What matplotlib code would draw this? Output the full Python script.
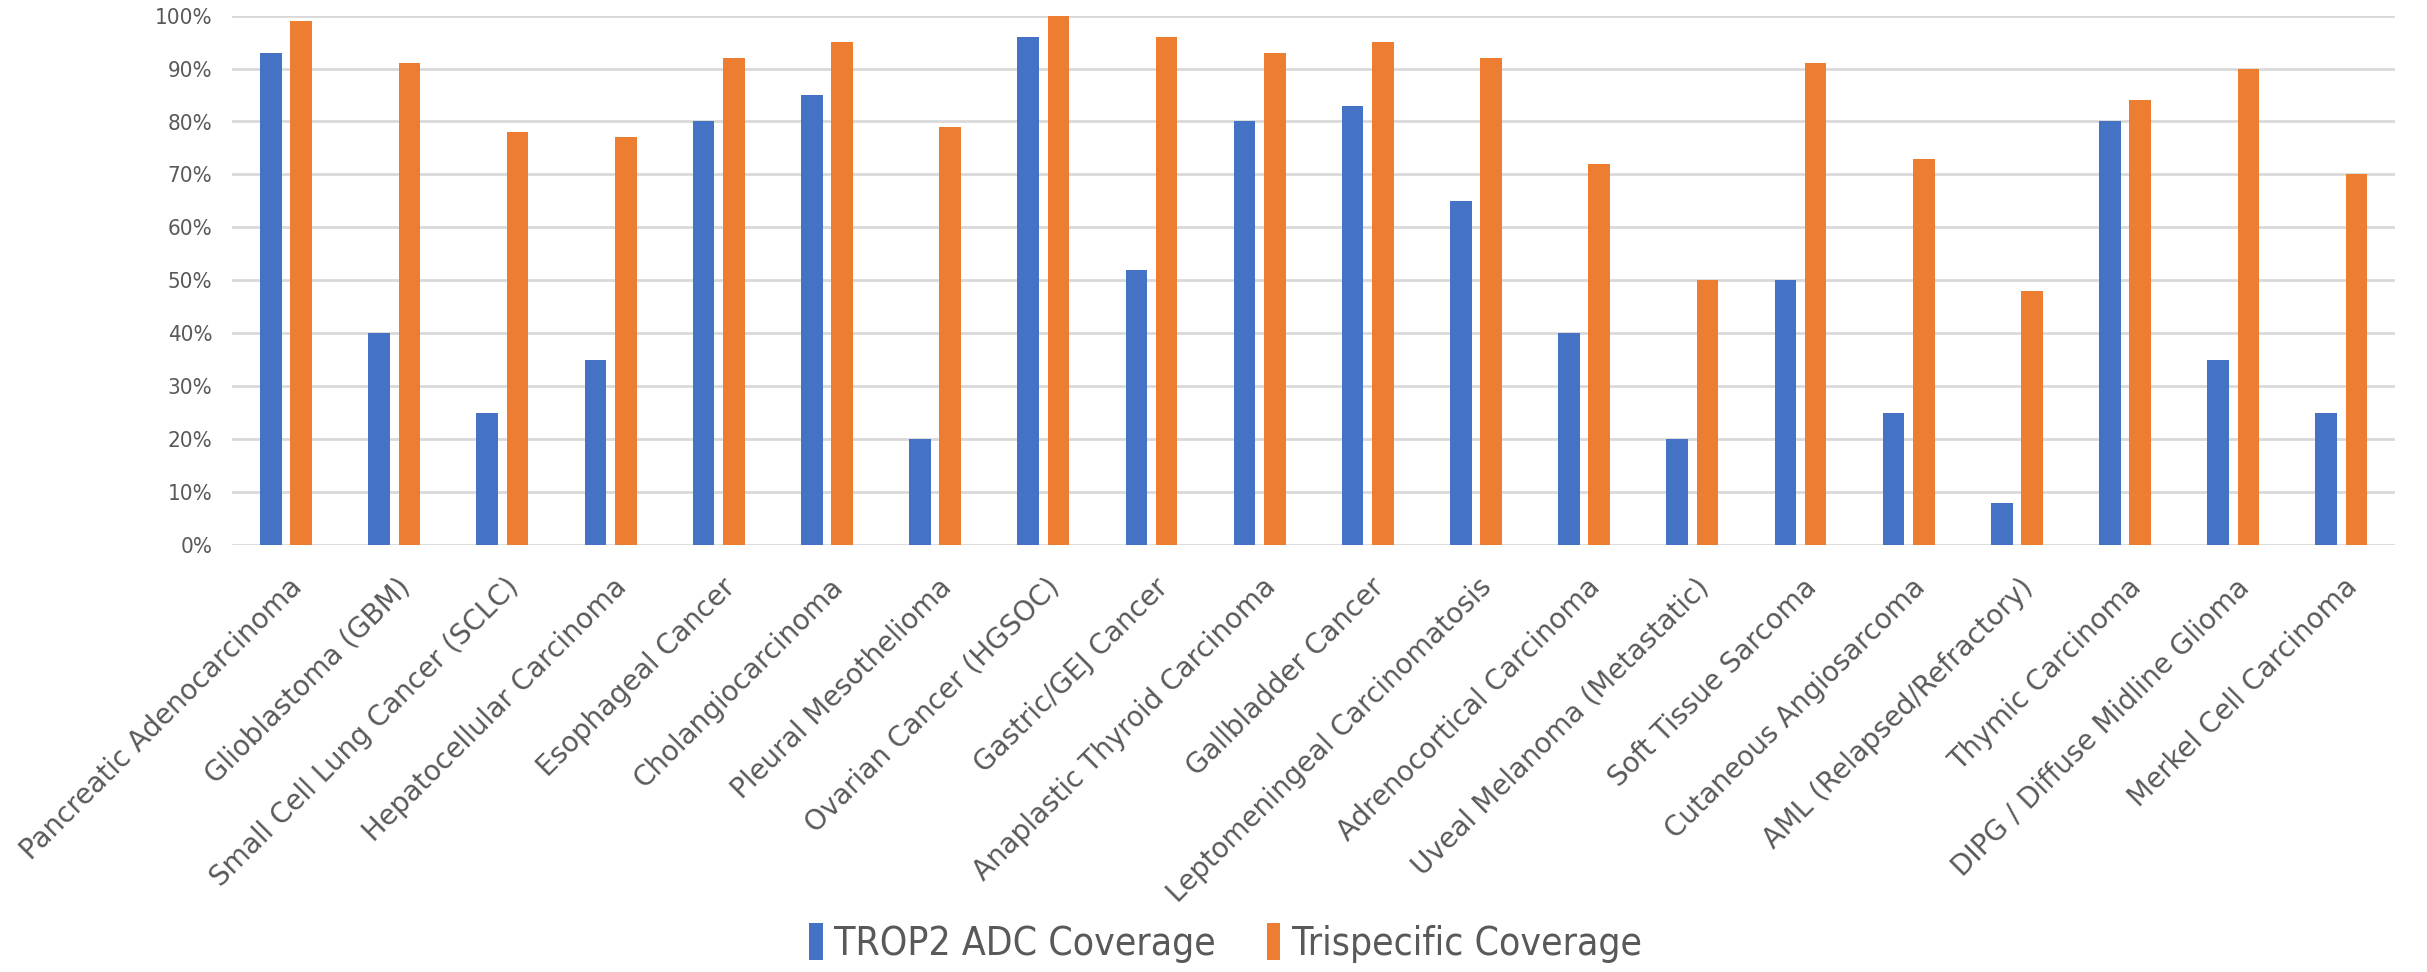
import matplotlib
matplotlib.use("Agg")
import matplotlib.pyplot as plt
import numpy as np
from matplotlib.ticker import PercentFormatter
from matplotlib.font_manager import FontProperties

categories = [
    "Pancreatic Adenocarcinoma", "Glioblastoma (GBM)", "Small Cell Lung Cancer (SCLC)",
    "Hepatocellular Carcinoma", "Esophageal Cancer", "Cholangiocarcinoma",
    "Pleural Mesothelioma", "Ovarian Cancer (HGSOC)", "Gastric/GEJ Cancer",
    "Anaplastic Thyroid Carcinoma", "Gallbladder Cancer", "Leptomeningeal Carcinomatosis",
    "Adrenocortical Carcinoma", "Uveal Melanoma (Metastatic)", "Soft Tissue Sarcoma",
    "Cutaneous Angiosarcoma", "AML (Relapsed/Refractory)", "Thymic Carcinoma",
    "DIPG / Diffuse Midline Glioma", "Merkel Cell Carcinoma",
]
trop2_adc = [93, 40, 25, 35, 80, 85, 20, 96, 52, 80, 83, 65, 40, 20, 50, 25, 8, 80, 35, 25]
trispecific = [99, 91, 78, 77, 92, 95, 79, 100, 96, 93, 95, 92, 72, 50, 91, 73, 48, 84, 90, 70]
series_names = ["TROP2 ADC Coverage", "Trispecific Coverage"]

BLUE = "#4472C4"
ORANGE = "#ED7D31"
TEXT = "#595959"
GRID = "#D9D9D9"

fig = plt.figure(figsize=(24.27, 9.72), dpi=100)
ax = fig.add_axes([0.0956, 0.439, 0.8914, 0.545])

x = np.arange(len(categories))
w = 0.2
off = 0.14
ax.bar(x - off, trop2_adc, width=w, color=BLUE, label=series_names[0], zorder=3)
ax.bar(x + off, trispecific, width=w, color=ORANGE, label=series_names[1], zorder=3)

ax.set_xlim(-0.5, len(categories) - 0.5)
ax.set_ylim(0, 100)
ax.set_yticks(np.arange(0, 101, 10))
ax.yaxis.set_major_formatter(PercentFormatter(100, decimals=0))
ax.grid(axis="y", color=GRID, linewidth=2, zorder=0)
for s in ax.spines.values():
    s.set_visible(False)
ax.tick_params(axis="y", length=0, pad=14, labelcolor=TEXT)
ytick_font = FontProperties(family="DejaVu Sans", stretch="condensed", size=16)
for t in ax.get_yticklabels():
    t.set_fontproperties(ytick_font)
ax.tick_params(axis="x", length=0, pad=20)

ax.set_xticks(x + 0.02)
ax.set_xticklabels(categories, rotation=45, ha="right", va="top",
                   rotation_mode="anchor", fontsize=20, color=TEXT)

leg_font = FontProperties(family="DejaVu Sans", stretch="condensed", size=28)
leg = fig.legend(loc="center", bbox_to_anchor=(0.505, 0.03), ncol=2, frameon=False,
                 prop=leg_font, handlelength=0.35, handleheight=1.1,
                 handletextpad=0.3, columnspacing=1.3, labelcolor=TEXT)

fig.savefig("out.png", dpi=100)
